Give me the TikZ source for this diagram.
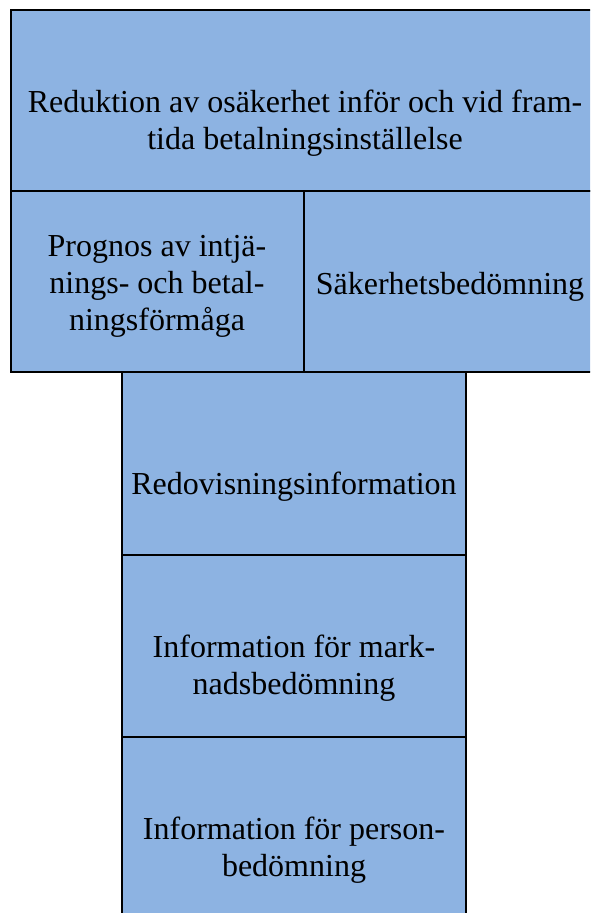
\documentclass[tikz,border=0pt]{standalone}
\usepackage{fontspec}
\setmainfont{Liberation Serif}
\definecolor{cellblue}{RGB}{141,179,226}
\begin{document}
\begin{tikzpicture}[x=0.75pt,y=-0.75pt]
	    \tikzset{cell/.style={fill=cellblue,draw=black,line width=1.8pt},
	             label/.style={align=center,inner sep=0pt,font=\fontsize{24}{27.8}\selectfont}}
	    \useasboundingbox (0,0) rectangle (590,913);
	    \clip (0,0) rectangle (590,913);
	    % corners of the table
	    \coordinate (TL) at (11,10);
	    \coordinate (TR) at (600,191);
	    \coordinate (ML) at (11,191);
	    \coordinate (MM) at (304,372);
	    \coordinate (MR) at (600,372);
	    \coordinate (C1) at (122,372);
	    \coordinate (C2) at (466,555);
	    \coordinate (C3) at (122,555);
	    \coordinate (C4) at (466,737);
	    \coordinate (C5) at (122,737);
	    \coordinate (C6) at (466,930);
	    \filldraw[cell] (TL) rectangle (TR);
	    \filldraw[cell] (ML) rectangle (MM);
	    \filldraw[cell] (MM |- ML) rectangle (MR);
	    \filldraw[cell] (C1) rectangle (C2);
	    \filldraw[cell] (C3) rectangle (C4);
	    \filldraw[cell] (C5) rectangle (C6);
	    % texts
	    \node[label] (reduktion) at (305,123.5) {Reduktion av osäkerhet inför och vid fram-\\tida betalningsinställelse};
	    \node[label] (prognos) at (157,286) {Prognos av intjä-\\nings- och betal-\\ningsförmåga};
	    \node[label,anchor=base] (sakerhet) at (450,294) {Säkerhetsbedömning};
	    \node[label,anchor=base] (redovisning) at (294,494) {Redovisningsinformation};
	    \node[label] (marknad) at (294,668) {Information för mark-\\nadsbedömning};
	    \node[label] (person) at (294,850.5) {Information för person-\\bedömning};
\end{tikzpicture}
\end{document}
